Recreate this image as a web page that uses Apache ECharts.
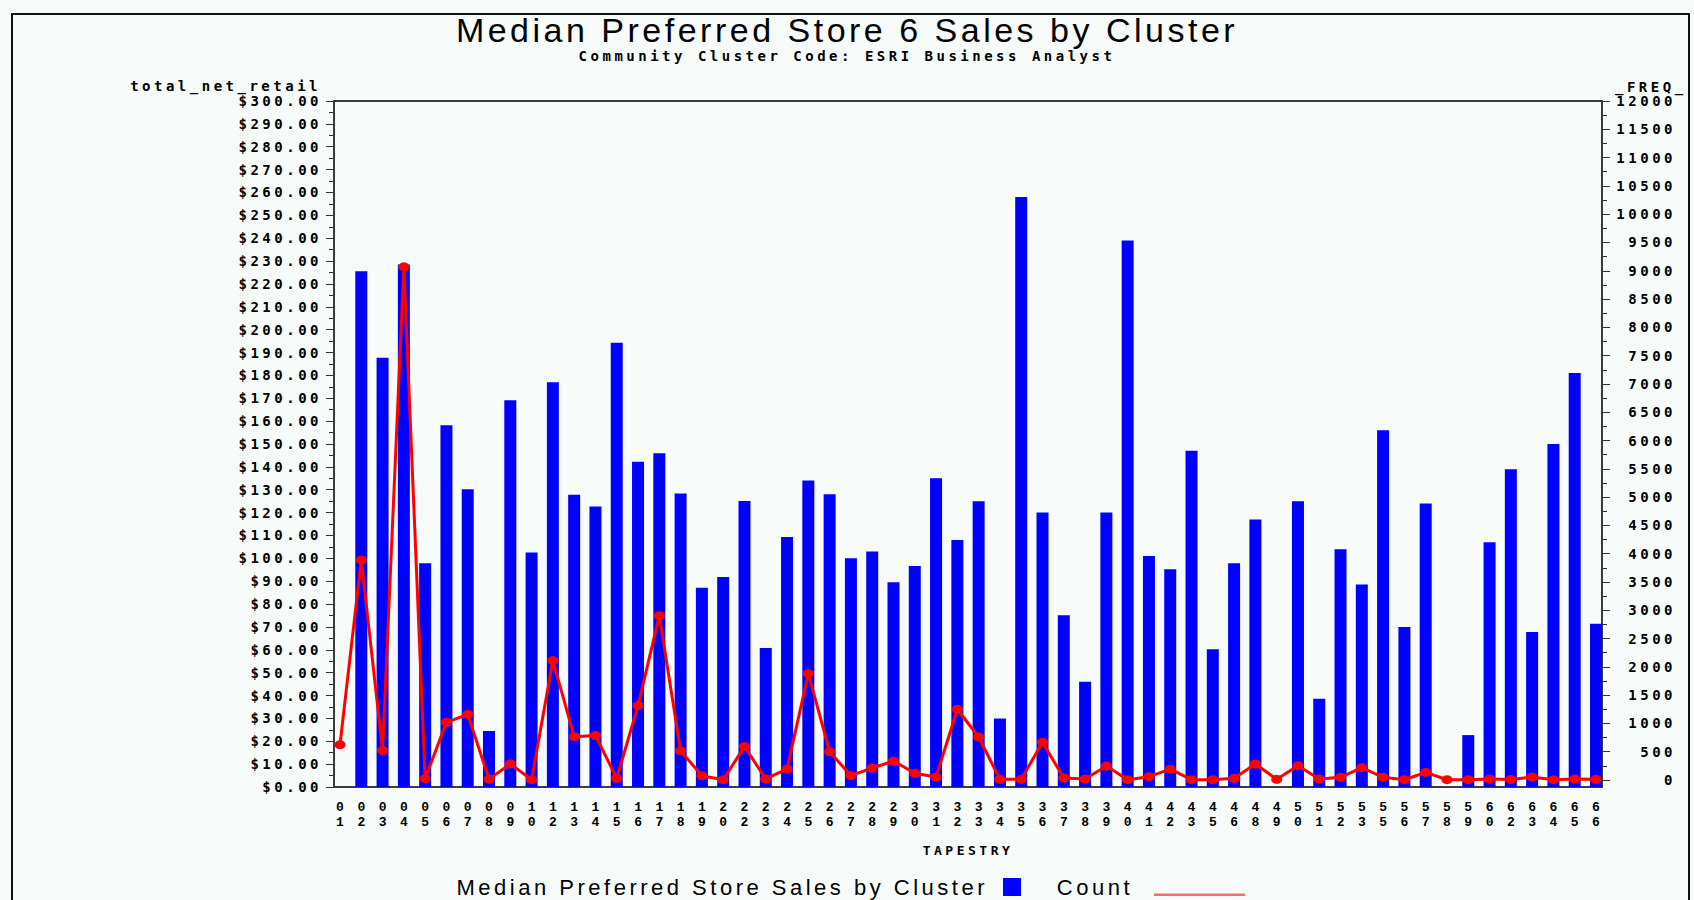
<!DOCTYPE html>
<html>
<head>
<meta charset="utf-8">
<script src="https://cdn.jsdelivr.net/npm/echarts@6/dist/echarts.min.js"></script>
<style>
html, body { margin: 0; padding: 0; background: #f7fcfa; }
#chart { width: 1694px; height: 900px; }
#chart text[style*="DejaVu Sans Mono"], #chart text[font-family*="DejaVu Sans Mono"] { letter-spacing: 3.5px; }
#chart text[style*="Liberation Sans"], #chart text[font-family*="Liberation Sans"] { letter-spacing: 3.5px; }
</style>
</head>
<body>
<div id="chart"></div>
<script>
// ---- Data ----
const chartTitle = 'Median Preferred Store 6 Sales by Cluster';
const chartSubtitle = 'Community Cluster Code: ESRI Business Analyst';
const barSeriesName = 'Median Preferred Store Sales by Cluster';
const lineSeriesName = 'Count';

const categories = [
  '01','02','03','04','05','06','07','08','09','10',
  '12','13','14','15','16','17','18','19','20','22',
  '23','24','25','26','27','28','29','30','31','32',
  '33','34','35','36','37','38','39','40','41','42',
  '43','45','46','48','49','50','51','52','53','55',
  '56','57','58','59','60','62','63','64','65','66'
];

// Median preferred store sales (left axis, $)
const salesValues = [
  null, 225.6, 187.7, 228.5, 97.9, 158.2, 130.2, 24.5, 169.1, 102.6,
  177.0, 127.8, 122.7, 194.3, 142.2, 146.0, 128.3, 87.1, 91.8, 125.1,
  60.8, 109.3, 134.0, 128.0, 100.0, 103.0, 89.5, 96.6, 135.0, 108.0,
  125.0, 30.0, 258.0, 120.0, 75.1, 46.0, 120.0, 239.0, 101.0, 95.2,
  147.0, 60.2, 97.9, 117.0, null, 125.0, 38.6, 104.0, 88.6, 156.0,
  70.0, 124.0, null, 22.7, 107.0, 139.0, 67.8, 150.0, 181.0, 71.4
];

// Count (_FREQ_, right axis)
const countValues = [
  625, 3890, 520, 9070, 25, 1020, 1160, 15, 285, 5,
  2110, 765, 785, 30, 1315, 2905, 515, 75, 5, 590,
  18, 195, 1880, 500, 77, 212, 336, 118, 53, 1250,
  760, 12, 12, 665, 35, 18, 247, 6, 59, 192,
  5, 5, 29, 283, 12, 253, 18, 47, 218, 47,
  5, 136, 5, 5, 18, 10, 53, 5, 18, 12
];

// Axis scales
const salesAxis = { min: 0, max: 300, step: 10 };
const countAxis = { min: 0, max: 12000, step: 500 };

// ---- Chart ----
const MONO = 'DejaVu Sans Mono';
const SANS = 'Liberation Sans';
const chart = echarts.init(document.getElementById('chart'), null, { renderer: 'svg', width: 1694, height: 900 });

const option = {
  backgroundColor: '#f7fcfa',
  animation: false,
  title: [
    {
      text: chartTitle, left: 'center', top: 13, padding: 0,
      textStyle: { fontFamily: SANS, fontSize: 34, fontWeight: 'normal', color: '#000' }
    },
    {
      text: chartSubtitle, left: 'center', top: 49, padding: 0,
      textStyle: { fontFamily: MONO, fontSize: 14, fontWeight: 'bold', color: '#000' }
    }
  ],
  legend: [
    {
      data: [{ name: barSeriesName, icon: 'rect' }],
      left: 454, top: 876, padding: 0, align: 'right',
      itemWidth: 18, itemHeight: 18, selectedMode: false,
      textStyle: { fontFamily: SANS, fontSize: 22, lineHeight: 22, color: '#000', width: 534, padding: [0, 10, 0, 0] }
    },
    {
      data: [{ name: lineSeriesName, icon: 'path://M0,0L0.1,0Z M0,12H100V14H0Z', symbolKeepAspect: false }],
      left: 1053, top: 876, padding: 0, align: 'right',
      itemWidth: 91, itemHeight: 18, selectedMode: false, symbolKeepAspect: false,
      itemStyle: { color: '#f36b6b' },
      textStyle: { fontFamily: SANS, fontSize: 22, lineHeight: 22, color: '#000', width: 80, padding: [0, 16, 0, 0] }
    }
  ],
  grid: [
    { left: 340, right: 98, top: 101, bottom: 113 },
    { left: 340, right: 98, top: 101, bottom: 120 },
    { left: 334, right: 92, top: 101, bottom: 113, show: true, borderColor: '#3c3c3c', borderWidth: 2, backgroundColor: 'transparent' }
  ],
  xAxis: [
    {
      type: 'category', gridIndex: 0, data: categories, boundaryGap: false,
      axisLine: { show: false }, axisTick: { show: false }, splitLine: { show: false },
      axisLabel: {
        interval: 0, formatter: v => v.split('').join('\n'),
        fontFamily: 'Liberation Mono', fontWeight: 'bold', fontSize: 13, lineHeight: 15, color: '#000', margin: 13
      },
      name: 'TAPESTRY', nameLocation: 'middle', nameGap: 57, nameMoveOverlap: false,
      nameTextStyle: { fontFamily: MONO, fontWeight: 'bold', fontSize: 13, color: '#000' }
    },
    { type: 'category', gridIndex: 1, data: categories, boundaryGap: false, show: false },
    { type: 'category', gridIndex: 2, data: categories, show: false }
  ],
  yAxis: [
    {
      type: 'value', gridIndex: 0, position: 'left', offset: 6,
      min: salesAxis.min, max: salesAxis.max, interval: salesAxis.step,
      axisLine: { show: false },
      axisTick: { show: true, length: 8, lineStyle: { color: '#333', width: 1 } },
      minorTick: { show: true, splitNumber: 2, length: 5, lineStyle: { color: '#333', width: 1 } },
      splitLine: { show: false },
      axisLabel: {
        formatter: v => '$' + v.toFixed(2),
        fontFamily: MONO, fontWeight: 'bold', fontSize: 14, color: '#000', margin: 12
      },
      name: 'total_net_retail', nameLocation: 'end', nameGap: 15, nameMoveOverlap: false,
      nameTextStyle: { fontFamily: MONO, fontWeight: 'bold', fontSize: 14, color: '#000', align: 'right', verticalAlign: 'middle', padding: [0, 13, 0, 0] }
    },
    {
      type: 'value', gridIndex: 1, position: 'right', offset: 6,
      min: countAxis.min, max: countAxis.max, interval: countAxis.step,
      axisLine: { show: false },
      axisTick: { show: true, length: 8, lineStyle: { color: '#333', width: 1 } },
      minorTick: { show: true, splitNumber: 2, length: 5, lineStyle: { color: '#333', width: 1 } },
      splitLine: { show: false },
      axisLabel: {
        formatter: v => String(v),
        align: 'right', fontFamily: MONO, fontWeight: 'bold', fontSize: 14, color: '#000', margin: 74
      },
      name: '_FREQ_', nameLocation: 'end', nameGap: 14, nameMoveOverlap: false,
      nameTextStyle: { fontFamily: MONO, fontWeight: 'bold', fontSize: 14, color: '#000', align: 'left', verticalAlign: 'middle', padding: [0, 0, 0, 13] }
    },
    { type: 'value', gridIndex: 2, show: false }
  ],
  graphic: [
    {
      type: 'rect', silent: true, z: -1,
      shape: { x: 12, y: 14, width: 1677, height: 910 },
      style: { fill: 'none', stroke: '#111', lineWidth: 2 }
    }
  ],
  series: [
    {
      name: barSeriesName, type: 'bar', xAxisIndex: 0, yAxisIndex: 0,
      data: salesValues, barWidth: 12, clip: false, silent: true,
      itemStyle: { color: '#0000ff' }
    },
    {
      name: lineSeriesName, type: 'line', xAxisIndex: 1, yAxisIndex: 1,
      data: countValues, clip: false, silent: true,
      symbol: 'circle', symbolSize: [11, 9],
      lineStyle: { color: '#ff0000', width: 3 },
      itemStyle: { color: '#ff0000' }
    }
  ]
};
chart.setOption(option);
</script>
</body>
</html>
